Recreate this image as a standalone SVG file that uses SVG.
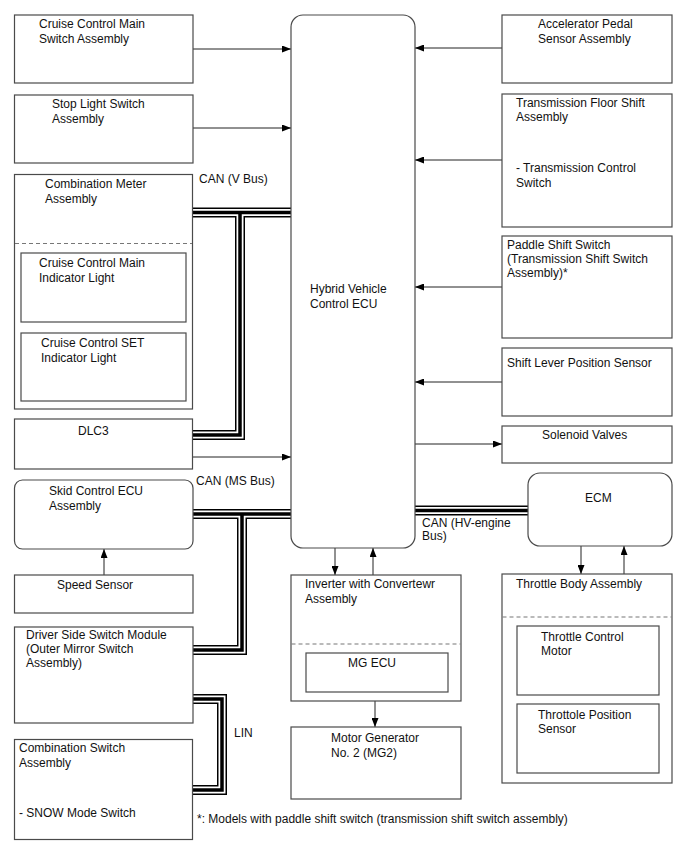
<svg xmlns="http://www.w3.org/2000/svg" width="688" height="852" viewBox="0 0 688 852">
<defs>
<style>
.b{fill:#fff;stroke:#4a4a4a;stroke-width:1.2}
.d{fill:none;stroke:#777;stroke-width:1.2;stroke-dasharray:4 3}
text{font-family:"Liberation Sans",Arial,sans-serif;font-size:12px;fill:#111}
.c{fill:none;stroke:#222;stroke-width:1}
.bus1{fill:none;stroke:#000;stroke-width:10;stroke-linejoin:miter}
.bus2{fill:none;stroke:#fff;stroke-width:7;stroke-linejoin:miter}
.bus3{fill:none;stroke:#000;stroke-width:3.5;stroke-linejoin:miter}
</style>
<marker id="ah" markerWidth="9" markerHeight="7" refX="9" refY="3.5" orient="auto" markerUnits="userSpaceOnUse">
<path d="M0,0 L9,3.5 L0,7 z" fill="#000"/>
</marker>
</defs>
<rect width="688" height="852" fill="#fff"/>

<g id="buses">
<path class="bus1" d="M192,212.5 H291 M240,212.5 V435 H192 M193,514 H291 M242,514 V650 H193 M415,510.5 H528 M193,699 H222 V790 H193"/>
<path class="bus2" d="M192,212.5 H291 M240,212.5 V435 H192 M193,514 H291 M242,514 V650 H193 M415,510.5 H528 M193,699 H222 V790 H193"/>
<path class="bus3" d="M192,212.5 H291 M240,212.5 V435 H192 M193,514 H291 M242,514 V650 H193 M415,510.5 H528 M193,699 H222 V790 H193"/>
</g>

<g id="connectors">
<path class="c" marker-end="url(#ah)" d="M193,49 H291"/>
<path class="c" marker-end="url(#ah)" d="M193,128 H291"/>
<path class="c" marker-end="url(#ah)" d="M193,457 H291"/>
<path class="c" marker-end="url(#ah)" d="M502,48 H415"/>
<path class="c" marker-end="url(#ah)" d="M502,160 H415"/>
<path class="c" marker-end="url(#ah)" d="M502,287 H415"/>
<path class="c" marker-end="url(#ah)" d="M502,382 H415"/>
<path class="c" marker-end="url(#ah)" d="M415,444 H502"/>
<path class="c" marker-end="url(#ah)" d="M335,548 V575"/>
<path class="c" marker-end="url(#ah)" d="M373,575 V548"/>
<path class="c" marker-end="url(#ah)" d="M375,692 V727"/>
<path class="c" marker-end="url(#ah)" d="M581,546 V574"/>
<path class="c" marker-end="url(#ah)" d="M624,574 V546"/>
<path class="c" marker-end="url(#ah)" d="M104,575 V549"/>
<text x="199" y="183">CAN (V Bus)</text>
<text x="196" y="485">CAN (MS Bus)</text>
<text x="422" y="527">CAN (HV-engine</text>
<text x="422" y="540">Bus)</text>
<text x="234" y="737">LIN</text>
</g>

<g id="cruise-main-switch">
<rect class="b" x="14.5" y="15" width="178.5" height="68"/>
<text x="39" y="28">Cruise Control Main</text>
<text x="39" y="43">Switch Assembly</text>
</g>
<g id="stop-light-switch">
<rect class="b" x="14.5" y="95" width="178.5" height="68"/>
<text x="52" y="108">Stop Light Switch</text>
<text x="52" y="123">Assembly</text>
</g>
<g id="combination-meter">
<rect class="b" x="14.5" y="174.5" width="178" height="234.5"/>
<text x="45" y="188">Combination Meter</text>
<text x="45" y="203">Assembly</text>
<line class="d" x1="15" y1="243.5" x2="192" y2="243.5"/>
<g id="cruise-main-indicator">
<rect class="b" x="21" y="253" width="165" height="69"/>
<text x="39" y="267">Cruise Control Main</text>
<text x="39" y="282">Indicator Light</text>
</g>
<g id="cruise-set-indicator">
<rect class="b" x="21" y="333" width="165" height="68"/>
<text x="41" y="347">Cruise Control SET</text>
<text x="41" y="362">Indicator Light</text>
</g>
</g>
<g id="dlc3">
<rect class="b" x="14.5" y="419" width="178" height="50"/>
<text x="78" y="435">DLC3</text>
</g>
<g id="skid-control-ecu">
<rect class="b" x="14.5" y="480" width="178.5" height="69" rx="8"/>
<text x="49" y="495">Skid Control ECU</text>
<text x="49" y="510">Assembly</text>
</g>
<g id="speed-sensor">
<rect class="b" x="14.5" y="575" width="178.5" height="38"/>
<text x="57" y="589">Speed Sensor</text>
</g>
<g id="driver-side-switch">
<rect class="b" x="14.5" y="627" width="178.5" height="96"/>
<text x="26" y="639">Driver Side Switch Module</text>
<text x="26" y="653">(Outer Mirror Switch</text>
<text x="26" y="667">Assembly)</text>
</g>
<g id="combination-switch">
<rect class="b" x="14.5" y="739.5" width="178" height="100"/>
<text x="19" y="752">Combination Switch</text>
<text x="19" y="767">Assembly</text>
<text x="19" y="817">- SNOW Mode Switch</text>
</g>
<g id="hv-control-ecu">
<rect class="b" x="291" y="15" width="124" height="533" rx="12"/>
<text x="310" y="293">Hybrid Vehicle</text>
<text x="310" y="308">Control ECU</text>
</g>
<g id="inverter">
<rect class="b" x="291" y="575" width="170" height="126"/>
<text x="305" y="588">Inverter with Convertewr</text>
<text x="305" y="603">Assembly</text>
<line class="d" x1="291.5" y1="644" x2="460.5" y2="644"/>
<g id="mg-ecu">
<rect class="b" x="306" y="653" width="142" height="39"/>
<text x="348" y="667">MG ECU</text>
</g>
</g>
<g id="mg2">
<rect class="b" x="291" y="727" width="170" height="72"/>
<text x="331" y="742">Motor Generator</text>
<text x="331" y="757">No. 2 (MG2)</text>
</g>
<g id="accelerator-pedal">
<rect class="b" x="502" y="15" width="170" height="68"/>
<text x="538" y="28">Accelerator Pedal</text>
<text x="538" y="43">Sensor Assembly</text>
</g>
<g id="transmission-floor-shift">
<rect class="b" x="502" y="94" width="170" height="133"/>
<text x="516" y="107">Transmission Floor Shift</text>
<text x="516" y="121">Assembly</text>
<text x="516" y="172">- Transmission Control</text>
<text x="516" y="187">Switch</text>
</g>
<g id="paddle-shift-switch">
<rect class="b" x="502" y="236" width="170" height="102"/>
<text x="507" y="249">Paddle Shift Switch</text>
<text x="507" y="263">(Transmission Shift Switch</text>
<text x="507" y="277">Assembly)*</text>
</g>
<g id="shift-lever-sensor">
<rect class="b" x="502" y="348" width="170" height="68"/>
<text x="507" y="367">Shift Lever Position Sensor</text>
</g>
<g id="solenoid-valves">
<rect class="b" x="502" y="426" width="170" height="37"/>
<text x="542" y="439">Solenoid Valves</text>
</g>
<g id="ecm">
<rect class="b" x="528" y="473" width="144" height="73" rx="12"/>
<text x="585" y="502">ECM</text>
</g>
<g id="throttle-body">
<rect class="b" x="502" y="574" width="170" height="209"/>
<text x="516" y="588">Throttle Body Assembly</text>
<line class="d" x1="502.5" y1="617" x2="671.5" y2="617"/>
<g id="throttle-control-motor">
<rect class="b" x="517" y="626" width="142" height="69"/>
<text x="541" y="641">Throttle Control</text>
<text x="541" y="655">Motor</text>
</g>
<g id="throttle-position-sensor">
<rect class="b" x="517" y="704" width="142" height="69"/>
<text x="538" y="719">Throttole Position</text>
<text x="538" y="733">Sensor</text>
</g>
</g>
<g id="footnote">
<text x="197" y="823">*: Models with paddle shift switch (transmission shift switch assembly)</text>
</g>
</svg>
